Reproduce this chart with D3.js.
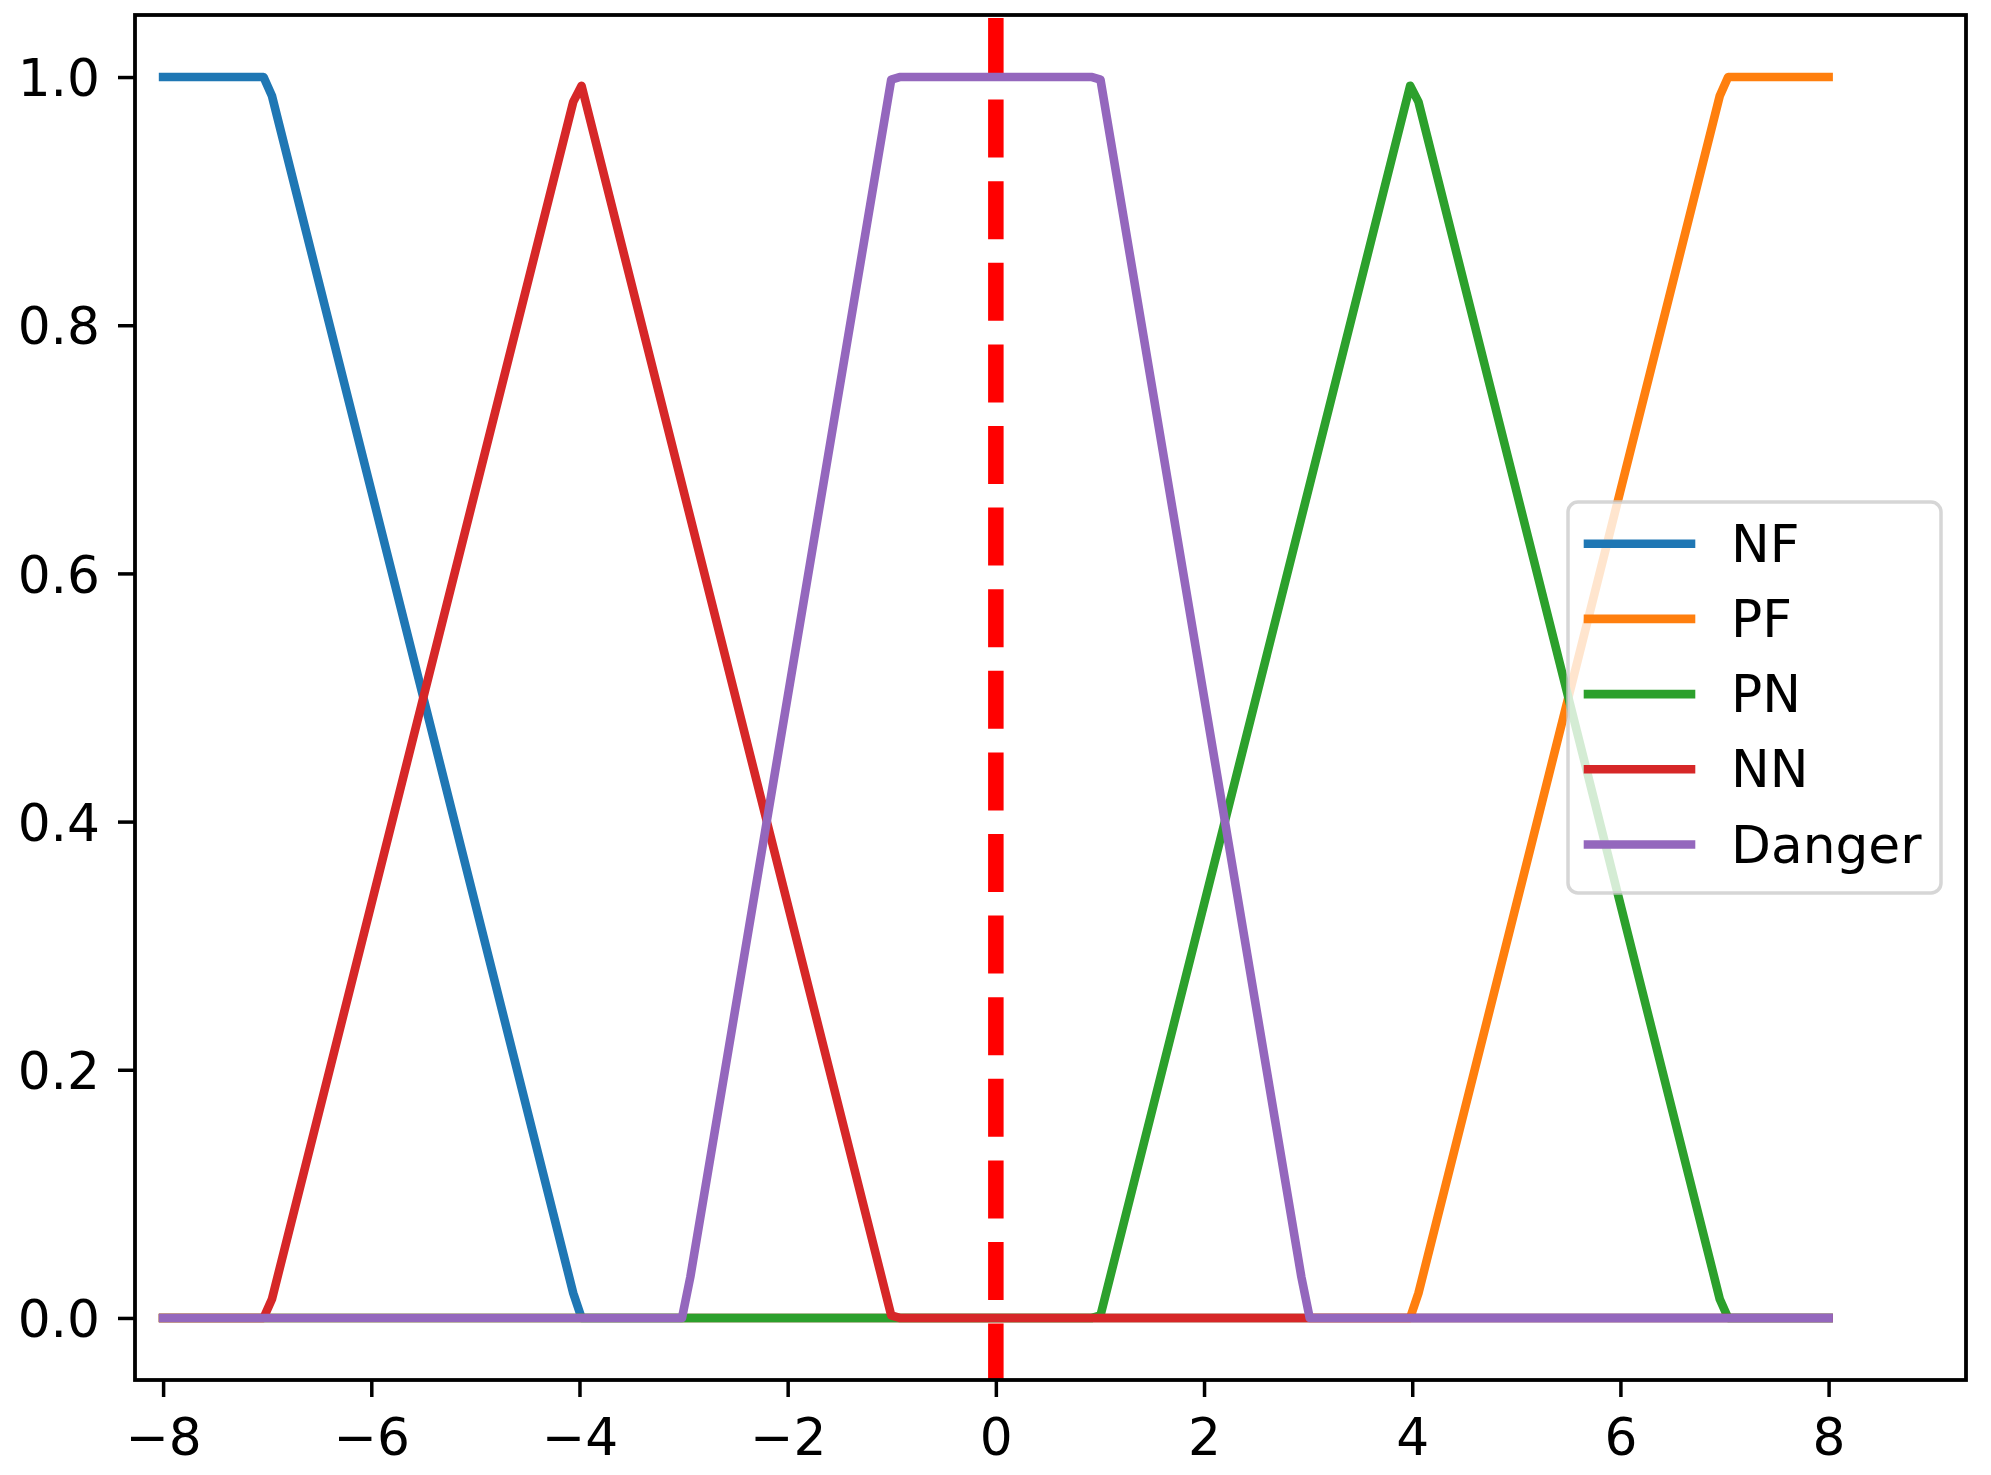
<!DOCTYPE html>
<html>
<head>
<meta charset="utf-8">
<script src="https://cdn.jsdelivr.net/npm/d3@7"></script>
<style>
  html, body { margin: 0; padding: 0; background: #ffffff; }
  svg { display: block; }
</style>
</head>
<body>
<svg id="chart" width="1991" height="1475"></svg>
<script>
// ---------- data ----------
const xLimits = [-8.27, 9.32];
const yLimits = [-0.05, 1.05];
const xTicks = [-8, -6, -4, -2, 0, 2, 4, 6, 8];
const yTicks = [0.0, 0.2, 0.4, 0.6, 0.8, 1.0];
const seriesNames = ["NF", "PF", "PN", "NN", "Danger"];
const seriesColors = ["#1f77b4", "#ff7f0e", "#2ca02c", "#d62728", "#9467bd"];

// vertices of each curve (x, membership)
const nfX = [-8, -7.035, -6.955, -4.060, -3.980, 8];
const nfY = [1, 1, 0.985, 0.020, 0, 0];
const pfX = [-8, 3.980, 4.060, 6.955, 7.035, 8];
const pfY = [0, 0, 0.020, 0.985, 1, 1];
const pnX = [-8, 0.925, 1.005, 3.980, 4.060, 6.955, 7.035, 8];
const pnY = [0, 0, 0.002, 0.993, 0.980, 0.015, 0, 0];
const nnX = [-8, -7.035, -6.955, -4.060, -3.980, -1.005, -0.925, 8];
const nnY = [0, 0, 0.015, 0.980, 0.993, 0.002, 0, 0];
const dangerX = [-8, -3.015, -2.935, -1.005, -0.925, 0.925, 1.005, 2.935, 3.015, 8];
const dangerY = [0, 0, 0.033, 0.998, 1, 1, 0.998, 0.033, 0, 0];
const refLineX = 0;

const seriesX = [nfX, pfX, pnX, nnX, dangerX];
const seriesY = [nfY, pfY, pnY, nnY, dangerY];

// ---------- layout ----------
const plot = { left: 135, right: 1966, top: 15, bottom: 1380 };
const fontFamily = "'DejaVu Sans', sans-serif";
const fontSize = 51.8;
const lineW = 8.6;

const svg = d3.select("#chart");
const x = d3.scaleLinear().domain(xLimits).range([plot.left, plot.right]);
const y = d3.scaleLinear().domain(yLimits).range([plot.bottom, plot.top]);

svg.append("defs").append("clipPath").attr("id", "clip")
  .append("rect")
  .attr("x", plot.left).attr("y", plot.top)
  .attr("width", plot.right - plot.left).attr("height", plot.bottom - plot.top);

const plotG = svg.append("g").attr("clip-path", "url(#clip)");

// red dashed vertical reference line (below the curves)
plotG.append("line")
  .attr("x1", x(refLineX)).attr("x2", x(refLineX))
  .attr("y1", y(yLimits[1])).attr("y2", y(yLimits[0]))
  .attr("stroke", "#ff0000")
  .attr("stroke-width", 15.5)
  .attr("stroke-dasharray", "58,23.6")
  .attr("stroke-dashoffset", -3);

const line = d3.line().x(d => x(d[0])).y(d => y(d[1]));

seriesNames.forEach((name, i) => {
  const pts = seriesX[i].map((xv, j) => [xv, seriesY[i][j]]);
  plotG.append("path")
    .datum(pts)
    .attr("d", line)
    .attr("fill", "none")
    .attr("stroke", seriesColors[i])
    .attr("stroke-width", lineW)
    .attr("stroke-linejoin", "round")
    .attr("stroke-linecap", "square");
});

// ---------- axes ----------
const xAxis = d3.axisBottom(x).tickValues(xTicks).tickFormat(d3.format("d"))
  .tickSize(17).tickPadding(21);
const yAxis = d3.axisLeft(y).tickValues(yTicks).tickFormat(d3.format(".1f"))
  .tickSize(17).tickPadding(18);

const gx = svg.append("g").attr("transform", `translate(0,${plot.bottom})`).call(xAxis);
const gy = svg.append("g").attr("transform", `translate(${plot.left},0)`).call(yAxis);

[gx, gy].forEach(g => {
  g.select(".domain").remove();
  g.selectAll(".tick line").attr("stroke", "#000").attr("stroke-width", 3.5);
  g.selectAll(".tick text")
    .attr("fill", "#000")
    .attr("font-family", fontFamily)
    .attr("font-size", fontSize);
});
gy.selectAll(".tick text").attr("dy", "0.36em");

// frame (spines)
svg.append("rect")
  .attr("x", plot.left).attr("y", plot.top)
  .attr("width", plot.right - plot.left).attr("height", plot.bottom - plot.top)
  .attr("fill", "none").attr("stroke", "#000").attr("stroke-width", 3.8);

// ---------- legend ----------
const legend = svg.append("g");
legend.append("rect")
  .attr("x", 1568).attr("y", 502)
  .attr("width", 373).attr("height", 391)
  .attr("rx", 10).attr("ry", 10)
  .attr("fill", "#ffffff").attr("fill-opacity", 0.8)
  .attr("stroke", "#cccccc").attr("stroke-opacity", 0.8)
  .attr("stroke-width", 3.5);

const legendY0 = 543.7, legendStep = 75.2;
seriesNames.forEach((name, i) => {
  const ly = legendY0 + i * legendStep;
  legend.append("line")
    .attr("x1", 1588).attr("x2", 1691)
    .attr("y1", ly).attr("y2", ly)
    .attr("stroke", seriesColors[i])
    .attr("stroke-width", lineW)
    .attr("stroke-linecap", "square");
  legend.append("text")
    .attr("x", 1731).attr("y", ly + 18)
    .attr("font-family", fontFamily)
    .attr("font-size", fontSize)
    .attr("fill", "#000")
    .text(name);
});
</script>
</body>
</html>
